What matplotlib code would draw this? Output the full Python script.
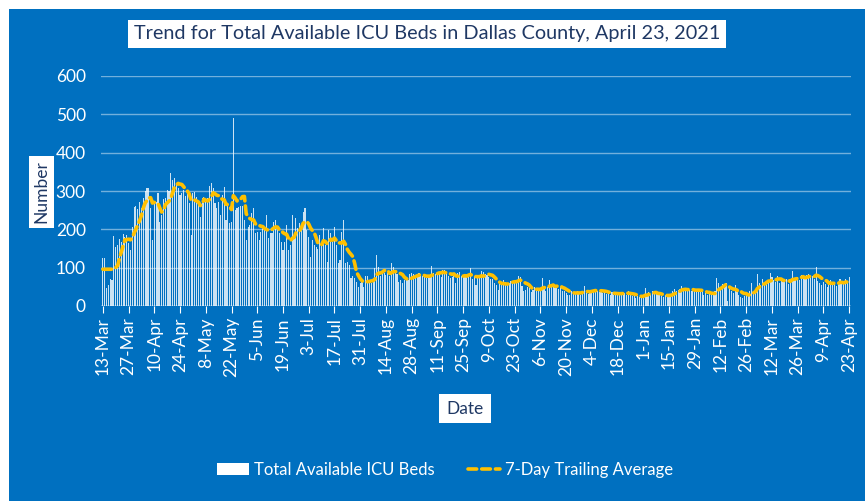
import matplotlib
matplotlib.use('Agg')
import matplotlib.pyplot as plt
import numpy as np
import pandas as pd
from matplotlib.patches import Rectangle, Patch
from matplotlib.lines import Line2D

plt.rcParams['font.family'] = ['Lato', 'DejaVu Sans']

# ---------------- data ----------------
start_date = '2020-03-13'
end_date = '2021-04-23'

beds_mar20 = [124, 125, 46, 55, 70, 68, 183, 155, 159, 175, 168, 188, 181, 185, 165, 146, 207, 259, 262]
beds_apr20 = [252, 270, 256, 281, 300, 307, 309, 255, 172, 268, 270, 296, 218, 237, 278, 281, 303, 301, 346,
              329, 333, 320, 307, 290, 294, 303, 288, 298, 268, 185]
beds_may20 = [294, 298, 285, 272, 233, 283, 285, 277, 281, 313, 320, 307, 268, 255, 272, 237, 290, 311, 224,
              263, 216, 220, 490, 250, 255, 259, 262, 261, 224, 172, 207]
beds_jun20 = [211, 242, 255, 190, 194, 172, 194, 203, 207, 237, 177, 190, 190, 220, 224, 203, 190, 168, 146,
              168, 211, 146, 159, 237, 185, 229, 203, 216, 198, 246]
beds_jul20 = [255, 198, 181, 129, 172, 159, 155, 150, 185, 168, 203, 159, 116, 198, 190, 168, 207, 159, 111,
              120, 194, 224, 111, 116, 107, 72, 77, 72, 63, 50, 59]
beds_aug20 = [68, 50, 77, 77, 68, 59, 63, 98, 133, 103, 77, 85, 85, 81, 85, 77, 113, 103, 85, 83, 63, 68, 59,
              68, 75, 68, 83, 87, 83, 75, 81]
beds_sep20 = [87, 77, 78, 75, 72, 75, 81, 104, 87, 83, 90, 85, 75, 94, 94, 90, 77, 73, 75, 83, 59, 87, 90, 77,
              75, 83, 75, 78, 98, 70]
beds_oct20 = [78, 55, 81, 77, 92, 90, 83, 81, 75, 70, 70, 61, 55, 42, 59, 55, 68, 63, 59, 61, 66, 63, 63, 68,
              77, 75, 52, 40, 43, 49, 46]
beds_nov20 = [37, 42, 49, 40, 43, 42, 72, 49, 40, 50, 68, 49, 55, 48, 52, 45, 50, 40, 38, 35, 30, 28, 38, 32,
              36, 40, 34, 30, 38, 52]
beds_dec20 = [36, 32, 38, 42, 38, 45, 40, 36, 40, 35, 38, 32, 34, 30, 36, 28, 32, 34, 30, 36, 32, 35, 30, 38,
              28, 25, 30, 22, 26, 24, 20]
beds_jan21 = [28, 46, 32, 36, 30, 38, 34, 32, 28, 30, 26, 24, 28, 26, 30, 32, 40, 44, 38, 42, 45, 52, 40, 44,
              38, 42, 40, 45, 42, 38, 45]
beds_feb21 = [36, 40, 30, 34, 28, 36, 30, 32, 38, 72, 61, 50, 58, 55, 60, 13, 48, 40, 35, 55, 38, 28, 24, 22,
              26, 35, 30, 38]
beds_mar21 = [59, 32, 40, 83, 60, 55, 70, 62, 58, 66, 85, 75, 68, 62, 78, 60, 65, 62, 68, 70, 58, 66, 92, 72,
              70, 75, 68, 81, 78, 72, 80]
beds_apr21 = [83, 76, 78, 70, 103, 65, 60, 55, 62, 58, 50, 65, 68, 55, 60, 52, 62, 70, 65, 58, 70, 62, 75]

title = 'Trend for Total Available ICU Beds in Dallas County, April 23, 2021'
bar_label = 'Total Available ICU Beds'
line_label = '7-Day Trailing Average'
y_ticks = [0, 100, 200, 300, 400, 500, 600]

# ---------------- build ----------------
beds = np.array(beds_mar20 + beds_apr20 + beds_may20 + beds_jun20 + beds_jul20 + beds_aug20 +
                beds_sep20 + beds_oct20 + beds_nov20 + beds_dec20 + beds_jan21 + beds_feb21 +
                beds_mar21 + beds_apr21, dtype=float)
dates = pd.date_range(start_date, end_date, freq='D')
avg = pd.Series(beds).rolling(7).mean().bfill().values

BLUE = '#0070C0'
DARK = '#1F3864'
W, H = 865, 501

fig = plt.figure(figsize=(W / 100, H / 100), dpi=100, facecolor='white')
fig.patches.append(Rectangle((9 / W, 0), 1, 1 - 9 / H, transform=fig.transFigure,
                             facecolor=BLUE, edgecolor='none', zorder=-10))

ax = fig.add_axes([101 / W, 1 - 306 / H, 750 / W, 230 / H])
ax.set_facecolor(BLUE)
x = np.arange(len(beds))
ax.bar(x, beds, width=0.6, color='white', alpha=0.8, linewidth=0, zorder=2)
ax.plot(x, avg, color='#FFC000', lw=2.6, linestyle=(0, (2.4, 1.4)), dash_capstyle='round', zorder=3)
ax.set_xlim(-1, len(beds))
ax.set_ylim(0, 600)
ax.set_yticks(y_ticks)
ax.grid(axis='y', color='white', alpha=0.45, lw=1, zorder=1)
ax.axhline(0, color='white', alpha=0.8, lw=1, zorder=1)
ax.set_axisbelow(True)
for s in ax.spines.values():
    s.set_visible(False)

tick_pos = x[::14]
ax.set_xticks(tick_pos)
ax.set_xticklabels([f"{d.day}-{d.strftime('%b')}" for d in dates[::14]], rotation=90,
                   color='white', fontsize=12.5)
ax.tick_params(axis='x', colors='white', length=5, width=0.8, pad=3)
ax.tick_params(axis='y', length=0, colors='white', labelsize=12.5, pad=11)

fig.text(427 / W, 1 - 34 / H, title, ha='center', va='center', color=DARK, fontsize=14.3,
         bbox=dict(facecolor='white', edgecolor='none', boxstyle='square,pad=0.3'))
fig.text(41.5 / W, 1 - 192 / H, 'Number', rotation=90, ha='center', va='center', color=DARK,
         fontsize=12.5, bbox=dict(facecolor='white', edgecolor='none', boxstyle='square,pad=0.25'))
fig.text(465 / W, 1 - 408.5 / H, 'Date', ha='center', va='center', color=DARK, fontsize=12.5,
         bbox=dict(facecolor='white', edgecolor='none', boxstyle='square,pad=0.4'))

handles = [Patch(facecolor='white', edgecolor='none'),
           Line2D([0], [0], color='#FFC000', lw=2.6, linestyle=(0, (2.4, 1.4)), dash_capstyle='round')]
fig.legend(handles, [bar_label, line_label], loc='center', bbox_to_anchor=(445 / W, 1 - 470 / H),
           ncol=2, frameon=False, labelcolor='white', fontsize=12, handlelength=1.9,
           handleheight=0.75, columnspacing=2.0, handletextpad=0.3)

fig.savefig('out.png', dpi=100, facecolor='white')
